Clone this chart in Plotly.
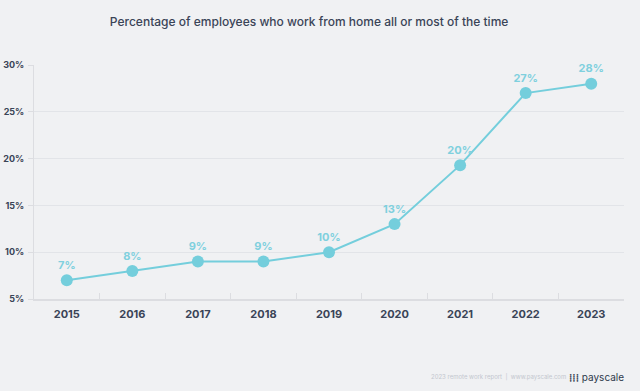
import plotly.graph_objects as go

years = ["2015", "2016", "2017", "2018", "2019", "2020", "2021", "2022", "2023"]
values = [7, 8, 9, 9, 10, 13, 19.3, 27, 28]
labels = ["7%", "8%", "9%", "9%", "10%", "13%", "20%", "27%", "28%"]
y_ticks = [5, 10, 15, 20, 25, 30]
y_tick_text = ["5%", "10%", "15%", "20%", "25%", "30%"]

title = "Percentage of employees who work from home all or most of the time"
footer = "2023 remote work report  |  www.payscale.com"

line_color = "#74cedc"
text_dark = "#3a4457"
bg = "#f0f1f3"

L, R, T, B = 34, 624, 65, 299
W, H = R - L, B - T

fig = go.Figure()
fig.add_trace(go.Scatter(
    x=years, y=values, mode="lines+markers+text",
    text=labels, textposition="top center",
    textfont=dict(family="Inter", size=11, color="#7fd0de", weight="bold"),
    line=dict(color=line_color, width=2),
    marker=dict(color=line_color, size=12),
    cliponaxis=False, hoverinfo="skip",
))

fig.update_layout(
    width=640, height=391,
    margin=dict(l=L, r=640 - R, t=T, b=391 - B, autoexpand=False),
    paper_bgcolor=bg, plot_bgcolor=bg,
    showlegend=False,
    font=dict(family="Inter", color=text_dark),
    title=dict(text=title, x=0.483, xanchor="center", y=0.943, yanchor="middle",
               font=dict(family="Inter", size=12, color=text_dark, weight=500)),
)
fig.update_xaxes(
    type="category", range=[-0.5, len(years) - 0.5],
    tickson="boundaries", ticks="inside", ticklen=6,
    tickcolor="#dcdde1", showline=True, linecolor="#dcdde1", linewidth=2,
    showgrid=False, tickfont=dict(size=11, color=text_dark, weight="bold"),
    ticklabelstandoff=4, automargin=False,
)
fig.update_yaxes(
    range=[5, 30], tickvals=y_ticks, ticktext=y_tick_text,
    ticks="outside", ticklen=5, tickcolor="#dcdde1",
    showline=True, linecolor="#dcdde1", linewidth=1,
    showgrid=True, gridcolor="#e2e4e8", gridwidth=1, zeroline=False,
    tickfont=dict(size=9, color=text_dark, weight="bold"),
    ticklabelstandoff=2, automargin=False,
)

fig.add_annotation(text=footer, xref="paper", yref="paper",
                   x=(568 - L) / W, y=(B - 377) / H, xanchor="right", yanchor="middle",
                   showarrow=False, font=dict(size=6, color="#c3c7cf"))
fig.add_annotation(text="<b>⁞⁞⁞</b> payscale", xref="paper", yref="paper",
                   x=(626 - L) / W, y=(B - 377) / H, xanchor="right", yanchor="middle",
                   showarrow=False, font=dict(size=10, color="#2f3a4c"))

fig.write_html("out.html", config={"displayModeBar": False},
               post_script="document.body.style.margin='0';document.body.style.background='#f0f1f3';")
